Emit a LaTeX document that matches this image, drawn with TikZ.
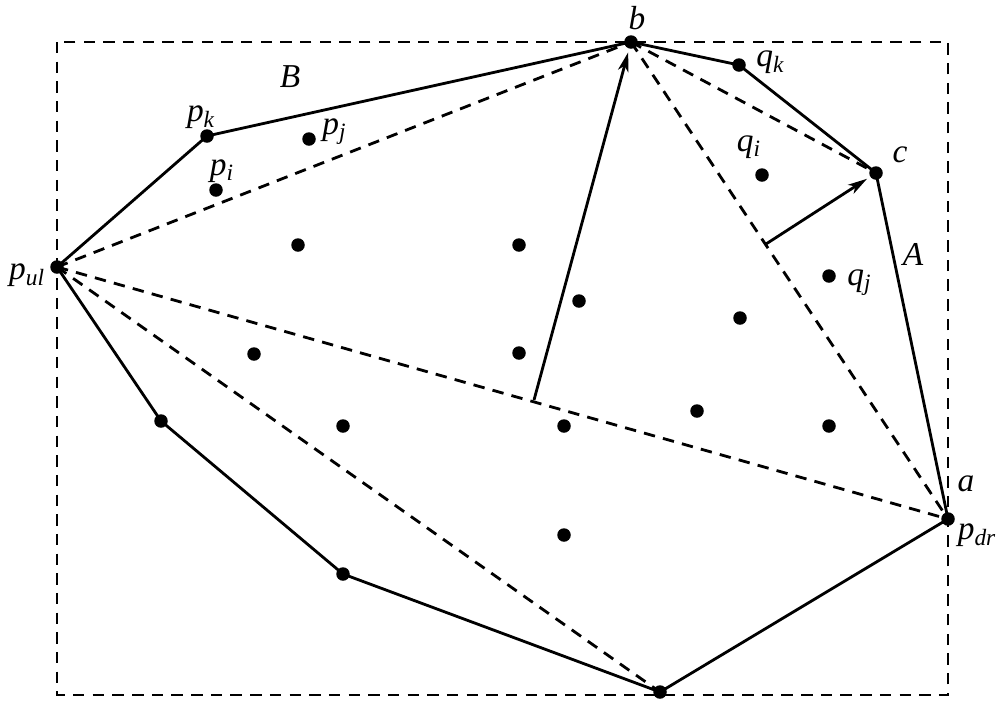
\documentclass[tikz,border=0pt]{standalone}
\usepackage{fontspec}
\setmainfont{Liberation Serif}
\usetikzlibrary{arrows.meta}
\begin{document}
\begin{tikzpicture}[x=0.02cm,y=-0.02cm,
  pt/.style={circle,fill=black,inner sep=0pt,minimum size=0.27cm},
  hull/.style={line width=1.6pt,line join=round},
  dsh/.style={line width=1.6pt,dash pattern=on 6.5pt off 4.7pt},
  arr/.style={line width=1.6pt,-{Stealth[length=11pt,width=6pt,inset=3pt]},shorten >=2pt},
  lab/.style={font=\fontsize{19}{22}\selectfont\itshape,inner sep=0pt}]
\useasboundingbox (0,0) rectangle (1007,711);
\draw[dsh] (57,42) rectangle (948,695);
% hull vertices
\node[pt] (pul) at (57,267) {};
\node[pt] (pk) at (207,136) {};
\node[pt] (b) at (631,42) {};
\node[pt] (qk) at (739,65) {};
\node[pt] (c) at (876,173) {};
\node[pt] (a) at (948,519) {};
\node[pt] (bot) at (660,692) {};
\node[pt] (h1) at (343,574) {};
\node[pt] (h2) at (161,421) {};
% interior points
\node[pt] (pj) at (309,139) {};
\node[pt] (pi) at (216,190) {};
\node[pt] (qi) at (762,175) {};
\node[pt] (qj) at (829,276) {};
\node[pt] (d1) at (298,245) {};
\node[pt] (d2) at (519,245) {};
\node[pt] (d3) at (579,301) {};
\node[pt] (d4) at (740,318) {};
\node[pt] (d5) at (254,354) {};
\node[pt] (d6) at (519,353) {};
\node[pt] (d7) at (343,426) {};
\node[pt] (d8) at (564,426) {};
\node[pt] (d9) at (697,411) {};
\node[pt] (d10) at (829,426) {};
\node[pt] (d11) at (564,535) {};
% hull
\draw[hull] (pul.center) -- (pk.center) -- (b.center) -- (qk.center) -- (c.center) -- (a.center) -- (bot.center) -- (h1.center) -- (h2.center) -- cycle;
% dashed diagonals
\draw[dsh] (pul.center) -- (b.center);
\draw[dsh] (pul.center) -- (a.center);
\draw[dsh] (pul.center) -- (bot.center);
\draw[dsh] (b.center) -- (a.center);
\draw[dsh] (b.center) -- (c.center);
% arrows
\coordinate (s1) at (534,400);
\coordinate (s2) at (766,244);
\draw[arr] (s1) -- (b);
\draw[arr] (s2) -- (c);
% labels
\node[lab] at (637,18) {b};
\node[lab,anchor=west] at (756,62) {q\textsubscript{k}};
\node[lab] at (749,147) {q\textsubscript{i}};
\node[lab] at (900,155) {c};
\node[lab] at (913,254) {A};
\node[lab,anchor=west] at (847,283) {q\textsubscript{j}};
\node[lab] at (966,484) {a};
\node[lab] at (977,535) {p\textsubscript{dr}};
\node[lab] at (290,77) {B};
\node[lab] at (201,117) {p\textsubscript{k}};
\node[lab,anchor=west] at (322,132) {p\textsubscript{j}};
\node[lab] at (222,171) {p\textsubscript{i}};
\node[lab] at (27,275) {p\textsubscript{ul}};
\end{tikzpicture}
\end{document}
